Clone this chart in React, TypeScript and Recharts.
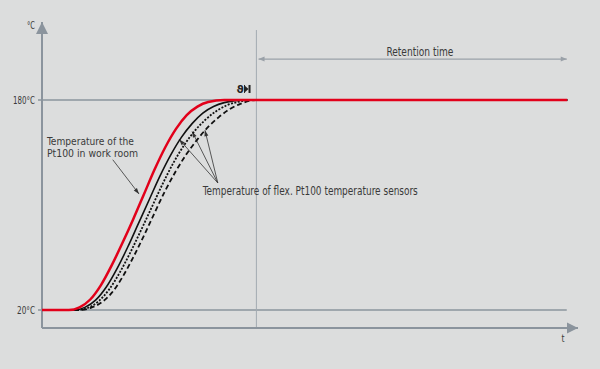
import React from 'react';
import { LineChart, Line, XAxis, YAxis, ReferenceLine, ReferenceDot } from 'recharts';

const FONT = "'DejaVu Sans Condensed', 'Liberation Sans Narrow', 'Open Sans', sans-serif";
const AXIS = '#8b949d';
const TEXT = '#3a3a3a';

// time axis (arbitrary units 0..100) and temperature (°C)
const redTime = [0, 5, 7, 9, 11, 13, 15, 17, 19, 21, 23, 25, 27, 29, 31, 34, 98];
const redTemp = [20, 20, 22, 28, 39, 54, 71, 89, 108, 127, 144, 158, 168.5, 175, 178.5, 180, 180];

const solidTime = [0, 6, 8, 10, 12, 14, 16, 18, 20, 22, 24, 26, 28, 30, 32, 34, 36, 38, 98];
const solidTemp = [20, 20, 22, 27.5, 37.5, 51.5, 68, 86, 104, 122, 138, 151.5, 162, 170, 175, 178, 179.5, 180, 180];

const dottedTime = [0, 6.5, 8.5, 10.5, 12.5, 14.5, 16.5, 18.5, 20.5, 22.5, 24.5, 26.5, 28.5, 30.5, 32.5, 34.5, 36.5, 39, 98];
const dottedTemp = [20, 20, 21.5, 26.5, 35.5, 48.5, 64, 81, 98.5, 116, 132, 145.5, 156.5, 165, 171.5, 176, 178.5, 180, 180];

const dashedTime = [0, 7, 9, 11, 13, 15, 17, 19, 21, 23, 25, 27, 29, 31, 33, 35, 37, 40, 98];
const dashedTemp = [20, 20, 21.5, 25.5, 33, 45, 60, 76.5, 94, 111, 126, 139, 150, 159.5, 167, 173, 177, 180, 180];

const yTicks = [20, 180];
const yTickWidths: Record<number, number> = { 20: 18, 180: 22 };
const xDomain = [0, 100];
const yDomain = [6.29, 239.43];

const retentionStart = 40;
const retentionEnd = 97.9;
const retentionArrowY = 211.2;
const lineEnd = 97.9;

const zip = (ts: number[], vs: number[]) => ts.map((t, i) => ({ t, T: vs[i] }));
const red = zip(redTime, redTemp);
const solid = zip(solidTime, solidTemp);
const dotted = zip(dottedTime, dottedTemp);
const dashed = zip(dashedTime, dashedTemp);

const head = (x1: number, y1: number, x2: number, y2: number, len: number, w: number, color: string) => {
  const dx = x2 - x1, dy = y2 - y1;
  const L = Math.hypot(dx, dy) || 1;
  const ux = dx / L, uy = dy / L;
  const nx = -uy, ny = ux;
  const bx = x2 - ux * len, by = y2 - uy * len;
  return (
    <polygon
      points={`${x2},${y2} ${bx + nx * w / 2},${by + ny * w / 2} ${bx - nx * w / 2},${by - ny * w / 2}`}
      fill={color}
      stroke="none"
    />
  );
};

const arrowShape = (color: string, width: number, mode: 'end' | 'both' | 'none', len: number, w: number, extendStart = 0) => (p: any) => {
  const x1 = Number(p.x1), y1 = Number(p.y1), x2 = Number(p.x2), y2 = Number(p.y2);
  return (
    <g>
      <line x1={x1 - extendStart} y1={y1} x2={x2} y2={y2} stroke={color} strokeWidth={width} />
      {mode !== 'none' && head(x1, y1, x2, y2, len, w, color)}
      {mode === 'both' && head(x2, y2, x1, y1, len, w, color)}
    </g>
  );
};

type TextLine = { s: string; w: number };
const textShape = (lines: TextLine[], opts: { dx?: number; dy?: number; anchor?: string; size?: number; lh?: number }) => (p: any) => {
  const { dx = 0, dy = 0, anchor = 'start', size = 11, lh = 12 } = opts;
  return (
    <g>
      {lines.map((l, i) => (
        <text
          key={i}
          x={p.cx + dx}
          y={p.cy + dy + i * lh}
          textAnchor={anchor}
          fontFamily={FONT}
          fontSize={size}
          fill={TEXT}
          textLength={l.w}
          lengthAdjust="spacingAndGlyphs"
        >
          {l.s}
        </text>
      ))}
    </g>
  );
};

const thetaShape = (p: any) => {
  const x = p.cx, y = p.cy;
  return (
    <g>
      <text x={x - 7} y={y + 4} fontFamily="'DejaVu Sans', sans-serif" fontSize={11} fontWeight="bold" fill="#222">ϑ</text>
      <line x1={x + 1} y1={y - 4} x2={x + 1} y2={y + 4} stroke="#222" strokeWidth={1} />
      <polygon points={`${x + 1},${y - 3.5} ${x + 5},${y} ${x + 1},${y + 3.5}`} fill="#222" />
      <rect x={x + 5} y={y - 4} width={2} height={8} fill="#222" />
    </g>
  );
};

const YTick = (p: any) => {
  const v = p.payload.value;
  return (
    <text
      x={p.x + 1}
      y={p.y}
      dy="0.35em"
      textAnchor="end"
      fontFamily={FONT}
      fontSize={10.5}
      fill={TEXT}
      textLength={yTickWidths[v]}
      lengthAdjust="spacingAndGlyphs"
    >
      {`${v}°C`}
    </text>
  );
};

export default function App() {
  return (
    <div style={{ position: 'absolute', left: 0, top: 0, width: 600, height: 369, background: '#dcdddd' }}>
      <LineChart width={600} height={369} margin={{ top: 22, right: 22, bottom: 41, left: 0 }}>
        <XAxis type="number" dataKey="t" domain={xDomain} hide allowDataOverflow />
        <YAxis
          type="number"
          domain={yDomain}
          allowDataOverflow
          ticks={yTicks}
          interval={0}
          width={42}
          axisLine={false}
          tickLine={false}
          tick={<YTick />}
        />

        {/* 180 °C and 20 °C guides */}
        <ReferenceLine segment={[{ x: 0, y: 180 }, { x: lineEnd, y: 180 }]} shape={arrowShape(AXIS, 1.6, 'none', 0, 0, 4)} />
        <ReferenceLine segment={[{ x: 0, y: 20 }, { x: lineEnd, y: 20 }]} shape={arrowShape(AXIS, 1.6, 'none', 0, 0, 4)} />

        {/* retention start */}
        <ReferenceLine segment={[{ x: retentionStart, y: yDomain[0] }, { x: retentionStart, y: 233.3 }]} shape={arrowShape('#a3aab1', 1, 'none', 0, 0)} />
        <ReferenceLine segment={[{ x: retentionStart + 0.4, y: retentionArrowY }, { x: retentionEnd, y: retentionArrowY }]} shape={arrowShape('#9aa1a8', 1.3, 'both', 6, 5)} />

        {/* axes */}
        <ReferenceLine segment={[{ x: 0, y: yDomain[0] }, { x: 0, y: yDomain[1] }]} shape={arrowShape(AXIS, 2, 'end', 12, 12)} />
        <ReferenceLine segment={[{ x: 0, y: yDomain[0] }, { x: xDomain[1], y: yDomain[0] }]} shape={arrowShape(AXIS, 2, 'end', 11, 11)} />

        {/* pointer lines */}
        <ReferenceLine segment={[{ x: 13.2, y: 134.5 }, { x: 18.1, y: 108.4 }]} shape={arrowShape('#333', 0.8, 'end', 6, 4)} />
        <ReferenceLine segment={[{ x: 32.8, y: 116.8 }, { x: 25.6, y: 150 }]} shape={arrowShape('#333', 0.8, 'end', 6, 4)} />
        <ReferenceLine segment={[{ x: 32.8, y: 116.8 }, { x: 28.0, y: 156 }]} shape={arrowShape('#333', 0.8, 'end', 6, 4)} />
        <ReferenceLine segment={[{ x: 32.8, y: 116.8 }, { x: 30.4, y: 157 }]} shape={arrowShape('#333', 0.8, 'end', 6, 4)} />

        <Line data={dashed} dataKey="T" type="monotone" stroke="#111" strokeWidth={1.8} strokeDasharray="5 3" dot={false} isAnimationActive={false} />
        <Line data={dotted} dataKey="T" type="monotone" stroke="#111" strokeWidth={1.8} strokeDasharray="2 1.5" dot={false} isAnimationActive={false} />
        <Line data={solid} dataKey="T" type="monotone" stroke="#111" strokeWidth={1.6} dot={false} isAnimationActive={false} />
        <Line data={red} dataKey="T" type="monotone" stroke="#e2001a" strokeWidth={2.5} dot={false} isAnimationActive={false} />

        {/* texts */}
        <ReferenceDot x={0} y={yDomain[1]} r={0} shape={textShape([{ s: '°C', w: 8 }], { dx: -7, dy: 7, anchor: 'end', size: 10 })} />
        <ReferenceDot x={xDomain[1]} y={yDomain[0]} r={0} shape={textShape([{ s: 't', w: 3 }], { dx: -15, dy: 14, anchor: 'middle', size: 10 })} />
        <ReferenceDot x={70.5} y={retentionArrowY} r={0} shape={textShape([{ s: 'Retention time', w: 67 }], { dy: -3, anchor: 'middle', size: 11.5 })} />
        <ReferenceDot
          x={0.93}
          y={145.8}
          r={0}
          shape={textShape([{ s: 'Temperature of the', w: 87 }, { s: 'Pt100 in work room', w: 91 }], { size: 11, lh: 12.5 })}
        />
        <ReferenceDot x={30.0} y={107.6} r={0} shape={textShape([{ s: 'Temperature of flex. Pt100 temperature sensors', w: 215 }], { size: 11.5 })} />
        <ReferenceDot x={37.6} y={188.4} r={0} shape={thetaShape} />
      </LineChart>
    </div>
  );
}
